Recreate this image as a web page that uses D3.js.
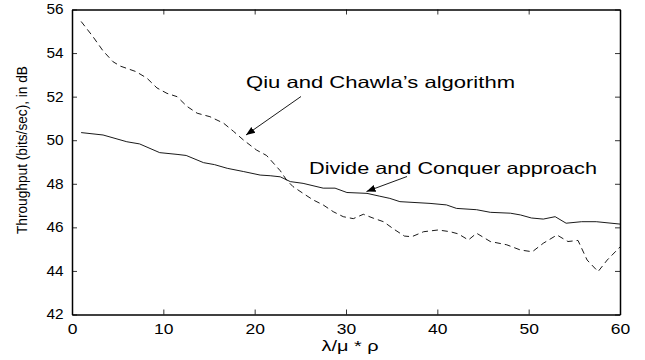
<!DOCTYPE html>
<html><head><meta charset="utf-8">
<script src="https://cdn.jsdelivr.net/npm/d3@7"></script>
<style>body{margin:0;background:#fff}svg{display:block}text{font-family:"Liberation Sans",Arial,sans-serif}</style>
</head><body>
<script>
const xTicks = [0,10,20,30,40,50,60];
const yTicks = [42,44,46,48,50,52,54,56];
const qiuX = [1,2.3,3.4,4.5,5.3,7,8.2,9.3,10.4,11.5,12.6,13.7,15.1,16.6,17.7,18.8,20.2,21.3,22.8,23.5,24.2,25.3,26.4,27.5,28.6,29.7,30.8,31.9,33,34.1,35.3,36.4,37.2,38.5,40.1,41.4,42.3,43.4,44.3,45.8,47.6,49.1,50.4,51.6,53.1,54.3,55.4,56.4,57.6,58.6,60];
const qiuY = [55.45,54.75,54.1,53.6,53.4,53.15,52.85,52.4,52.15,52.0,51.55,51.24,51.08,50.78,50.4,50.0,49.55,49.3,48.6,48.17,47.87,47.56,47.26,47.03,46.72,46.49,46.4,46.6,46.42,46.26,45.9,45.6,45.57,45.8,45.88,45.8,45.7,45.42,45.73,45.35,45.2,44.96,44.88,45.27,45.65,45.35,45.4,44.5,43.97,44.5,45.1];
const dcX = [1,3.4,6,7.4,9.6,11.5,12.5,14.4,15.6,17,18.8,20.6,21.7,22.8,23.9,25.3,27.5,28.8,30.1,32.3,33.7,34.8,35.9,39.2,41,42.1,44.3,45.8,48,49.1,50.3,51.6,52.9,54.1,55.8,57.4,60];
const dcY = [50.35,50.24,49.93,49.83,49.43,49.35,49.3,48.97,48.88,48.71,48.56,48.4,48.37,48.32,48.1,48.02,47.8,47.8,47.6,47.56,47.43,47.33,47.18,47.1,47.03,46.87,46.81,46.69,46.65,46.57,46.43,46.38,46.49,46.19,46.26,46.26,46.15];
const labels = {qiu:"Qiu and Chawla\u2019s algorithm", dc:"Divide and Conquer approach", x:"\u03bb/\u03bc * \u03c1", y:"Throughput (bits/sec), in dB"};

const W=645,H=360, L=72, R=620, T=9.5, B=314.5;
const svg = d3.select("body").append("svg").attr("width",W).attr("height",H);
const x = d3.scaleLinear().domain([0,60]).range([L,R]);
const y = d3.scaleLinear().domain([42,56]).range([B,T]);

svg.append("defs").append("marker").attr("id","ah").attr("viewBox","0 0 10 10")
  .attr("refX",10).attr("refY",5).attr("markerWidth",9).attr("markerHeight",9)
  .attr("markerUnits","userSpaceOnUse").attr("orient","auto")
  .append("path").attr("d","M0,1 L10,5 L0,9 Z").attr("fill","#000");

const line = d3.line().x(d=>x(d[0])).y(d=>y(d[1]));
svg.append("path").datum(qiuX.map((v,i)=>[v,qiuY[i]])).attr("d",line)
  .attr("fill","none").attr("stroke","#000").attr("stroke-width",0.9).attr("stroke-dasharray","6,4");
svg.append("path").datum(dcX.map((v,i)=>[v,dcY[i]])).attr("d",line)
  .attr("fill","none").attr("stroke","#000").attr("stroke-width",0.9);

const fs = 14;
const ax = svg.append("g").attr("transform",`translate(0,${B})`)
  .call(d3.axisBottom(x).tickValues(xTicks).tickSizeInner(-5).tickSizeOuter(0).tickPadding(10));
const axT = svg.append("g").attr("transform",`translate(0,${T})`)
  .call(d3.axisTop(x).tickValues(xTicks).tickSizeInner(-5).tickSizeOuter(0).tickFormat(""));
const ay = svg.append("g").attr("transform",`translate(${L},0)`)
  .call(d3.axisLeft(y).tickValues(yTicks).tickSizeInner(-5).tickSizeOuter(0).tickPadding(9));
const ayR = svg.append("g").attr("transform",`translate(${R},0)`)
  .call(d3.axisRight(y).tickValues(yTicks).tickSizeInner(-5).tickSizeOuter(0).tickFormat(""));
[ax,axT,ay,ayR].forEach(g=>{
  g.select(".domain").attr("stroke","#000").attr("stroke-width",1.5);
  g.selectAll(".tick line").attr("stroke","#000").attr("stroke-width",0.8);
  g.selectAll("text").attr("font-size",fs).attr("fill","#000").style("font-family","'Liberation Sans',Arial,sans-serif");
});
ax.selectAll(".tick text").attr("dy","0.71em").attr("transform","scale(1.25,1)");
ay.selectAll(".tick text").attr("x",0).attr("transform","translate(-8.5,0) scale(1.1,1)");

svg.append("text").attr("x",350).attr("y",351).attr("text-anchor","middle")
  .attr("font-size",fs).attr("textLength",57).attr("lengthAdjust","spacingAndGlyphs").text(labels.x);
svg.append("text").attr("transform",`translate(27,150) rotate(-90)`).attr("text-anchor","middle")
  .attr("font-size",14.5).attr("textLength",168).attr("lengthAdjust","spacingAndGlyphs").text(labels.y);

svg.append("text").attr("x",246).attr("y",88).attr("font-size",16.5)
  .attr("textLength",269).attr("lengthAdjust","spacingAndGlyphs").text(labels.qiu);
svg.append("line").attr("x1",301).attr("y1",96.5).attr("x2",246).attr("y2",135)
  .attr("stroke","#000").attr("stroke-width",0.9).attr("marker-end","url(#ah)");
svg.append("text").attr("x",309).attr("y",173.5).attr("font-size",16.5)
  .attr("textLength",288).attr("lengthAdjust","spacingAndGlyphs").text(labels.dc);
svg.append("line").attr("x1",407).attr("y1",176.5).attr("x2",366.5).attr("y2",191.5)
  .attr("stroke","#000").attr("stroke-width",0.9).attr("marker-end","url(#ah)");
</script>
</body></html>
